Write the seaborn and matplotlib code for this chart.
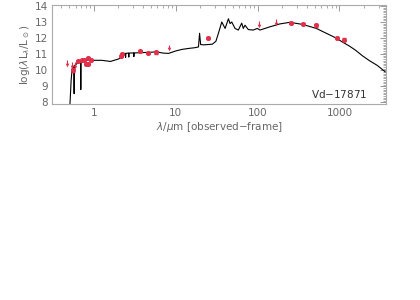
import numpy as np
import pandas as pd
import seaborn as sns
import matplotlib.pyplot as plt
from matplotlib.ticker import LogLocator, MultipleLocator, FixedLocator, FixedFormatter

# model SED (observed-frame wavelength in micron, log(lambda L_lambda / Lsun))
model_wave = [0.512, 0.530, 0.545, 0.560, 0.570, 0.576, 0.583, 0.604, 0.634, 0.680,
              0.690, 0.695, 0.701, 0.75, 0.85, 1.0, 1.25, 1.6, 2.0, 2.2, 2.30, 2.33,
              2.43, 2.45, 2.47, 2.66, 2.68, 2.70, 3.07, 3.09, 3.11, 4.0, 5.0, 5.8,
              7.0, 8.2, 10.0, 12.0, 15.0, 17.0, 19.0, 19.6, 20.2, 22.0, 28.0, 31.0,
              33.3, 36.6, 40.2, 44.1, 46.2, 48.4, 53.1, 58.3, 64.1, 67.0, 70.3, 77.1,
              88.7, 99.2, 107, 141.5, 187, 248, 356, 523, 659, 914, 1091, 1327,
              1570, 1910, 2321, 2904, 3630]
model_logL = [7.85, 9.4, 10.1, 10.25, 10.25, 8.55, 10.3, 10.35, 10.45, 10.5,
              10.5, 8.8, 10.55, 10.6, 10.62, 10.62, 10.62, 10.55, 10.7, 10.8, 10.8, 11.05,
              11.05, 10.8, 11.05, 11.07, 10.82, 11.07, 11.08, 10.85, 11.08, 11.1, 11.12, 11.15,
              11.07, 11.05, 11.2, 11.3, 11.37, 11.4, 11.45, 12.3, 11.6, 11.58, 11.62, 11.8,
              12.3, 13.0, 12.6, 13.2, 12.9, 13.0, 12.6, 12.5, 12.93, 12.6, 12.8, 12.53,
              12.5, 12.6, 12.5, 12.7, 12.88, 12.98, 12.85, 12.6, 12.35, 12.0, 11.75, 11.5,
              11.25, 10.9, 10.6, 10.3, 9.9]

# photometric detections
det_wave = [0.551, 0.634, 0.715, 0.762, 0.80, 0.853, 0.853, 0.92, 2.15, 2.2,
            3.65, 4.6, 5.8, 24.8, 259, 360, 522, 930, 1150]
det_logL = [10.0, 10.58, 10.65, 10.63, 10.39, 10.39, 10.75, 10.63, 10.9, 10.99,
            11.22, 11.07, 11.12, 11.99, 12.93, 12.86, 12.8, 12.0, 11.9]
det_err = [0.08, 0.06, 0.06, 0.06, 0.06, 0.06, 0.06, 0.06, 0.06, 0.06,
           0.06, 0.06, 0.1, 0.05, 0.06, 0.06, 0.1, 0.08, 0.1]

# upper limits
lim_wave = [0.466, 0.536, 0.588, 8.2, 103, 166]
lim_logL = [10.64, 10.5, 10.5, 11.6, 13.05, 13.2]

red = '#e0304a'
grey = '#666666'

sns.set_theme(style='white')
plt.rcParams['font.family'] = ['DejaVu Sans']

fig = plt.figure(figsize=(4.2, 3.0), dpi=100)
ax = fig.add_axes([0.124, 0.653, 0.795, 0.33])

model = pd.DataFrame({'wave': model_wave, 'logL': model_logL})
sns.lineplot(data=model, x='wave', y='logL', ax=ax, color='black', lw=0.8,
             sort=False, estimator=None)

ax.errorbar(det_wave, det_logL, yerr=det_err, fmt='o', ms=2.6, color=red,
            ecolor=red, elinewidth=0.8, capsize=1.2, zorder=5)

# upper limits: short shaft + small downward head
lim_tip = [v - 0.3 for v in lim_logL]
ax.vlines(lim_wave, lim_tip, lim_logL, color=red, lw=0.8, zorder=5)
ax.plot(lim_wave, lim_tip, 'v', ms=2.6, color=red, mew=0, zorder=5)

ax.set_xscale('log')
ax.set_xlim(0.31, 3700)
ax.set_ylim(7.9, 14.05)

ax.xaxis.set_major_locator(FixedLocator([1, 10, 100, 1000]))
ax.xaxis.set_major_formatter(FixedFormatter(['1', '10', '100', '1000']))
ax.xaxis.set_minor_locator(LogLocator(base=10, subs=np.arange(2, 10)))
ax.yaxis.set_major_locator(MultipleLocator(1))
ax.yaxis.set_minor_locator(MultipleLocator(0.1))

ax.tick_params(which='both', direction='in', top=True, right=True,
               color='#888888', labelcolor=grey, labelsize=7.5, pad=3)
ax.tick_params(which='major', length=4, width=0.6)
ax.tick_params(which='minor', length=2, width=0.5)
for s in ax.spines.values():
    s.set_color('#aaaaaa')
    s.set_linewidth(0.8)

ax.set_xlabel(r'$\lambda/\mu$m [observed$-$frame]', fontsize=7.5, color=grey, labelpad=1)
ax.set_ylabel(r'log($\lambda$L$_\lambda$/L$_\odot$)', fontsize=7.5, color=grey, labelpad=2)
ax.text(0.945, 0.1, 'Vd$-$17871', transform=ax.transAxes, ha='right', va='center',
        fontsize=7.5, color='#333333')

fig.savefig('out.png', dpi=100)
